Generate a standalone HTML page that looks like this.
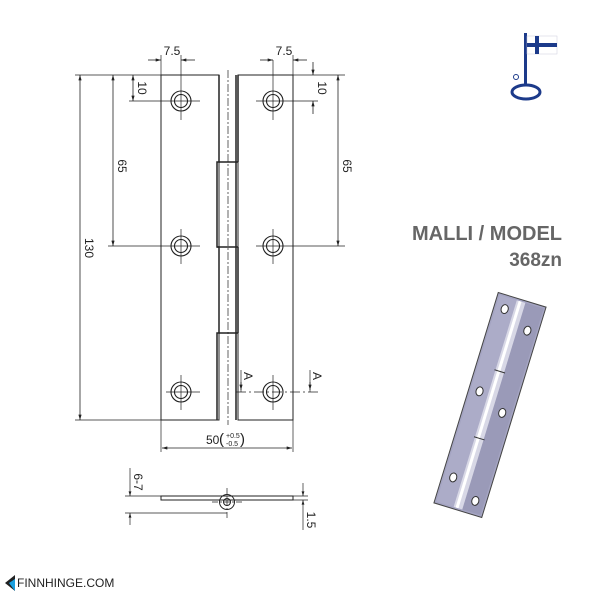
<!DOCTYPE html>
<html><head><meta charset="utf-8"><style>
html,body{margin:0;padding:0;background:#fff;width:600px;height:600px;overflow:hidden}
svg text{font-family:"Liberation Sans",sans-serif}
</style></head><body>
<svg width="600" height="600" viewBox="0 0 600 600" xmlns="http://www.w3.org/2000/svg">
<defs>
<marker id="a" viewBox="0 0 10 6" refX="10" refY="3" markerWidth="8" markerHeight="4" orient="auto-start-reverse"><path d="M0,0L10,3L0,6z" fill="#222"/></marker>
</defs>
<g stroke="#222" stroke-width="1" fill="none">
<rect x="161" y="75" width="58" height="345"/>
<rect x="238" y="75" width="55" height="345"/>
<path d="M219,75V162H217V247H219V333H217V420" stroke-width="1.5"/>
<path d="M236,75V420M238,75V162M238,247V333" stroke-width="1.5"/>
<path d="M219,162H238M217,247H238M219,333H238" stroke-width="1.5"/>
<path d="M228,70V425" stroke-dasharray="8,2,2,2" stroke-width="0.7"/>
<g stroke-width="1.1">
<circle cx="181" cy="101" r="10"/><circle cx="181" cy="101" r="6.5"/>
<circle cx="273" cy="101" r="10"/><circle cx="273" cy="101" r="6.5"/>
<circle cx="181" cy="246" r="10"/><circle cx="181" cy="246" r="6.5"/>
<circle cx="273" cy="246" r="10"/><circle cx="273" cy="246" r="6.5"/>
<circle cx="181" cy="392" r="10"/><circle cx="181" cy="392" r="6.5"/>
<circle cx="273" cy="392" r="10"/><circle cx="273" cy="392" r="6.5"/>
</g>
<g stroke-width="0.7">
<path d="M129,101H200M181,82V120M256,101H318M273,60V120"/>
<path d="M108,246H200M181,229V264M256,246H345M273,229V264"/>
<path d="M181,375V410M166,392H200M273,375V410"/>
<path d="M75,75H161M293,75H345M75,420H161"/>
<path d="M161,420V452M293,420V452M181,55V82M161,55V75M293,55V75"/>
<path d="M236,392H318" stroke-dasharray="10,3,2,3"/>
<path d="M241,370V392M310,370V392"/>
</g>
<g stroke-width="0.8" marker-start="url(#a)" marker-end="url(#a)">
<path d="M80,75V420"/>
<path d="M113,75V246"/>
<path d="M338,75V246"/>
<path d="M162,448H292"/>
</g>
<g stroke-width="0.8">
<path d="M133,75V101" marker-start="url(#a)" marker-end="url(#a)"/>
<path d="M313,62V75" marker-end="url(#a)"/><path d="M313,114V101" marker-end="url(#a)"/>
<path d="M148,60H161" marker-end="url(#a)"/><path d="M195,60H181" marker-end="url(#a)"/>
<path d="M260,60H273" marker-end="url(#a)"/><path d="M307,60H293" marker-end="url(#a)"/>
<path d="M241,382V390" marker-end="url(#a)"/><path d="M310,382V390" marker-end="url(#a)"/>
</g>
<rect x="161" y="496" width="132" height="4" stroke-width="1"/>
<circle cx="227" cy="502" r="7.5"/><circle cx="227" cy="502" r="3.5"/>
<g stroke-width="0.7">
<path d="M227,488V518M212,502H244" stroke-dasharray="6,2,2,2"/>
<path d="M125,496H161M125,513H227M293,496H308M293,500H308"/>
<path d="M130,468V496" marker-end="url(#a)"/><path d="M130,525V513" marker-end="url(#a)"/>
<path d="M303,483V496" marker-end="url(#a)"/><path d="M303,530V500" marker-end="url(#a)"/>
</g>
</g>
<g fill="#222" font-size="12">
<text x="172" y="55" text-anchor="middle">7.5</text>
<text x="284" y="55" text-anchor="middle">7.5</text>
<text transform="translate(138,88) rotate(90)" text-anchor="middle">10</text>
<text transform="translate(318,88) rotate(90)" text-anchor="middle">10</text>
<text transform="translate(118,166) rotate(90)" text-anchor="middle">65</text>
<text transform="translate(343,166) rotate(90)" text-anchor="middle">65</text>
<text transform="translate(85,248) rotate(90)" text-anchor="middle">130</text>
<text transform="translate(244,376) rotate(90)" text-anchor="middle">A</text>
<text transform="translate(313,376) rotate(90)" text-anchor="middle">A</text>
<text transform="translate(134,482) rotate(90)" text-anchor="middle">6-7</text>
<text transform="translate(307,520) rotate(90)" text-anchor="middle">1.5</text>
<text x="206" y="444">50</text>
<text x="219" y="444" font-size="15">(</text>
<text x="226" y="438" font-size="7">+0.5</text>
<text x="226" y="446" font-size="7">-0.5</text>
<text x="240" y="444" font-size="15">)</text>
</g>
<text x="562" y="240" text-anchor="end" font-size="20" font-weight="bold" fill="#666">MALLI / MODEL</text>
<text x="562" y="266" text-anchor="end" font-size="19" font-weight="bold" fill="#666">368zn</text>
<g>
<rect x="524" y="33" width="3" height="52" fill="#1c3a8a"/>
<rect x="527" y="36" width="30" height="18" fill="#fff" stroke="#ccd" stroke-width="0.5"/>
<rect x="527" y="43" width="30" height="4" fill="#1c3a8a"/>
<rect x="535" y="36" width="4" height="18" fill="#1c3a8a"/>
<ellipse cx="526" cy="92" rx="14" ry="7" fill="none" stroke="#1c3a8a" stroke-width="3"/>
<circle cx="516" cy="77" r="2.5" fill="none" stroke="#1c3a8a" stroke-width="1"/>
</g>
<g transform="translate(490,405) rotate(17)">
<rect x="-25" y="-110" width="50" height="220" fill="#a4a4c2" stroke="#444" stroke-width="1"/>
<rect x="-23" y="-108" width="19" height="216" fill="#acacc8"/>
<rect x="4" y="-108" width="19" height="216" fill="#9a9ab8"/>
<rect x="-5" y="-108" width="9" height="216" fill="#d8d8e6"/>
<rect x="-3" y="-108" width="3" height="216" fill="#fff"/>
<path d="M-6,-35H5M-6,35H5" stroke="#333" stroke-width="1"/>
<g fill="#fff" stroke="#333" stroke-width="1">
<ellipse cx="-14" cy="-96" rx="3.5" ry="4.5"/><ellipse cx="14" cy="-82" rx="3.5" ry="4.5"/>
<ellipse cx="-14" cy="-10" rx="3.5" ry="4.5"/><ellipse cx="14" cy="4" rx="3.5" ry="4.5"/>
<ellipse cx="-14" cy="80" rx="3.5" ry="4.5"/><ellipse cx="14" cy="96" rx="3.5" ry="4.5"/>
</g>
</g>
<path d="M5,583L15,575V591Z" fill="#222"/>
<path d="M9,583L15,579V591Z" fill="#1aa0e0"/>
<text x="17" y="587" font-size="12" fill="#222">FINNHINGE.COM</text>
</svg>
</body></html>
